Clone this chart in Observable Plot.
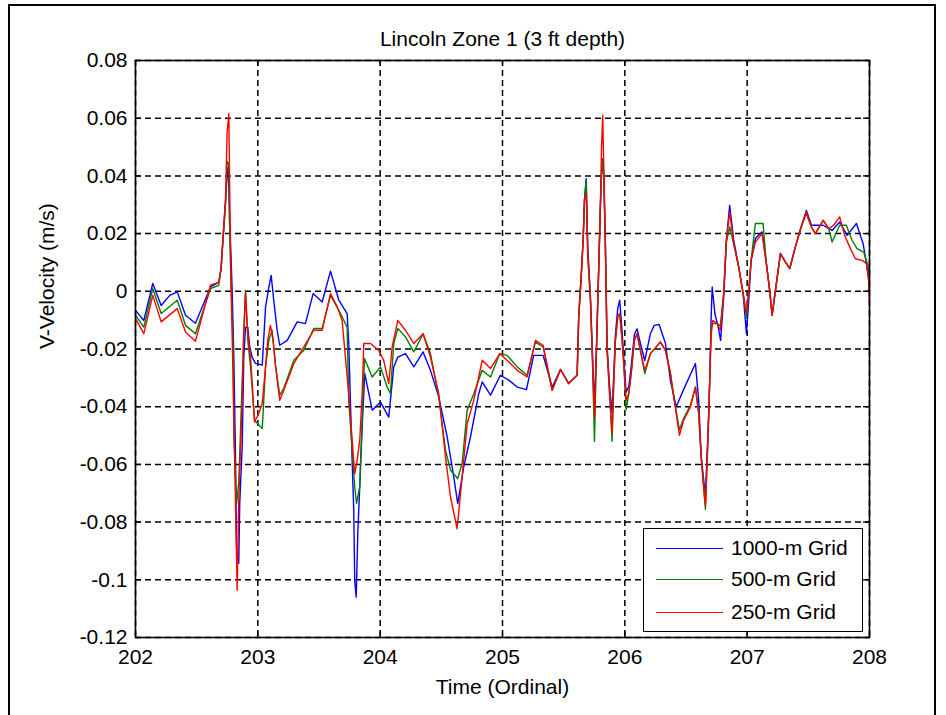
<!DOCTYPE html>
<html>
<head>
<meta charset="utf-8">
<script src="https://cdn.jsdelivr.net/npm/d3@7"></script>
<script src="https://cdn.jsdelivr.net/npm/@observablehq/plot@0.6"></script>
<style>
  body { margin: 0; background: #fff; font-family: Arial, "Liberation Sans", sans-serif; }
  #wrap { position: relative; width: 946px; height: 715px; overflow: hidden; background: #fff; }
  #border { position: absolute; left: 8px; top: 4px; width: 928px; height: 730px; border: 2px solid #000; box-sizing: border-box; pointer-events: none; }
  #legend { position: absolute; left: 643px; top: 528px; width: 220px; height: 104px; box-sizing: border-box;
            border: 1.5px solid #000; background: #fff; font-size: 21px; color: #000; }
  #legend .row { position: absolute; left: 0; height: 24px; display: flex; align-items: center; }
  #legend .sw { display: inline-block; width: 67px; height: 0; border-top: 1.6px solid; margin-left: 12px; margin-right: 8px; }
</style>
</head>
<body>
<div id="wrap">
  <div id="chart"></div>
  <div id="legend"></div>
  <div id="border"></div>
</div>
<script>
// Lincoln Zone 1, V-velocity at 3 ft depth, three model grid resolutions.
// Each series: [ordinal day, velocity in m/s]
const grid1000 = [
  [202.000,-0.0066],[202.068,-0.0101],[202.141,0.0027],[202.210,-0.0049],[202.280,-0.0014],[202.341,-0.0002],
  [202.409,-0.0083],[202.490,-0.0111],[202.613,0.0015],[202.681,0.0032],[202.700,0.0080],[202.717,0.0194],
  [202.736,0.0315],[202.749,0.0402],[202.758,0.0431],[202.763,0.0360],[202.771,0.0211],[202.782,0.0107],
  [202.790,0.0003],[202.803,-0.0215],[202.817,-0.0562],[202.826,-0.0887],[202.844,-0.0943],[202.852,-0.0735],
  [202.872,-0.0541],[202.885,-0.0229],[202.899,-0.0125],[202.918,-0.0125],[202.934,-0.0194],[202.954,-0.0229],
  [202.981,-0.0250],[203.036,-0.0256],[203.063,-0.0055],[203.090,0.0014],[203.109,0.0055],[203.130,-0.0031],
  [203.158,-0.0135],[203.179,-0.0187],[203.240,-0.0170],[203.322,-0.0106],[203.389,-0.0112],[203.452,-0.0008],
  [203.526,-0.0037],[203.594,0.0070],[203.662,-0.0031],[203.730,-0.0077],[203.743,-0.0181],[203.771,-0.0586],
  [203.784,-0.0759],[203.792,-0.1002],[203.804,-0.1060],[203.817,-0.0840],[203.833,-0.0678],[203.853,-0.0470],
  [203.874,-0.0285],[203.935,-0.0412],[204.003,-0.0384],[204.070,-0.0436],[204.111,-0.0262],[204.144,-0.0228],
  [204.207,-0.0216],[204.275,-0.0262],[204.351,-0.0210],[204.411,-0.0274],[204.479,-0.0366],[204.548,-0.0505],
  [204.602,-0.0644],[204.634,-0.0736],[204.683,-0.0609],[204.738,-0.0505],[204.806,-0.0355],[204.834,-0.0314],
  [204.902,-0.0360],[204.983,-0.0291],[205.051,-0.0308],[205.120,-0.0332],[205.196,-0.0341],[205.255,-0.0222],
  [205.332,-0.0222],[205.406,-0.0332],[205.474,-0.0271],[205.541,-0.0320],[205.610,-0.0291],[205.623,-0.0089],
  [205.643,0.0050],[205.659,0.0177],[205.670,0.0315],[205.684,0.0390],[205.697,0.0150],[205.719,-0.0020],
  [205.733,-0.0190],[205.752,-0.0400],[205.768,-0.0190],[205.787,0.0090],[205.801,0.0300],[205.809,0.0400],
  [205.819,0.0460],[205.828,0.0400],[205.841,0.0160],[205.855,-0.0190],[205.877,-0.0340],[205.896,-0.0420],
  [205.909,-0.0290],[205.923,-0.0150],[205.942,-0.0060],[205.958,-0.0031],[205.978,-0.0140],[205.991,-0.0230],
  [206.011,-0.0350],[206.032,-0.0330],[206.052,-0.0260],[206.078,-0.0150],[206.100,-0.0130],[206.127,-0.0180],
  [206.163,-0.0240],[206.209,-0.0147],[206.240,-0.0118],[206.280,-0.0115],[206.332,-0.0180],[206.373,-0.0310],
  [206.420,-0.0400],[206.481,-0.0340],[206.577,-0.0250],[206.604,-0.0380],[206.624,-0.0570],[206.651,-0.0680],
  [206.659,-0.0700],[206.673,-0.0560],[206.686,-0.0420],[206.694,-0.0308],[206.705,-0.0100],[206.714,0.0015],
  [206.736,-0.0077],[206.763,-0.0124],[206.783,-0.0170],[206.808,-0.0020],[206.830,0.0177],[206.857,0.0298],
  [206.890,0.0177],[206.931,0.0084],[206.967,-0.0008],[206.994,-0.0147],[207.013,-0.0031],[207.032,0.0107],
  [207.067,0.0183],[207.122,0.0206],[207.157,0.0096],[207.184,0.0003],[207.204,-0.0083],[207.231,0.0003],
  [207.272,0.0131],[207.305,0.0107],[207.348,0.0079],[207.394,0.0154],[207.441,0.0223],[207.484,0.0280],
  [207.525,0.0230],[207.544,0.0229],[207.621,0.0229],[207.694,0.0211],[207.756,0.0240],[207.817,0.0194],
  [207.893,0.0235],[207.948,0.0165],[207.975,0.0096],[207.992,0.0050],[208.000,0.0003]
];

const grid500 = [
  [202.000,-0.0083],[202.068,-0.0124],[202.141,0.0009],[202.210,-0.0077],[202.341,-0.0031],[202.409,-0.0118],
  [202.490,-0.0147],[202.613,0.0009],[202.681,0.0021],[202.700,0.0080],[202.717,0.0190],[202.736,0.0300],
  [202.749,0.0450],[202.763,0.0440],[202.771,0.0180],[202.782,0.0000],[202.799,-0.0200],[202.803,-0.0490],
  [202.826,-0.0735],[202.844,-0.0666],[202.858,-0.0490],[202.885,-0.0146],[202.899,0.0003],[202.918,-0.0170],
  [202.940,-0.0260],[202.973,-0.0447],[203.036,-0.0476],[203.063,-0.0262],[203.090,-0.0170],[203.117,-0.0135],
  [203.144,-0.0256],[203.179,-0.0360],[203.212,-0.0336],[203.294,-0.0239],[203.376,-0.0204],[203.457,-0.0129],
  [203.526,-0.0129],[203.594,-0.0014],[203.676,-0.0077],[203.730,-0.0124],[203.743,-0.0378],[203.771,-0.0550],
  [203.792,-0.0678],[203.807,-0.0735],[203.833,-0.0678],[203.853,-0.0436],[203.872,-0.0233],[203.935,-0.0297],
  [204.003,-0.0262],[204.057,-0.0332],[204.084,-0.0354],[204.111,-0.0181],[204.144,-0.0129],[204.207,-0.0158],
  [204.275,-0.0210],[204.351,-0.0147],[204.411,-0.0216],[204.479,-0.0366],[204.534,-0.0551],[204.575,-0.0620],
  [204.634,-0.0649],[204.670,-0.0597],[204.711,-0.0412],[204.765,-0.0355],[204.834,-0.0274],[204.902,-0.0297],
  [204.978,-0.0216],[205.038,-0.0222],[205.120,-0.0262],[205.201,-0.0291],[205.269,-0.0176],[205.332,-0.0193],
  [205.406,-0.0343],[205.474,-0.0271],[205.541,-0.0320],[205.610,-0.0291],[205.623,-0.0089],[205.643,0.0050],
  [205.659,0.0177],[205.670,0.0315],[205.684,0.0385],[205.697,0.0140],[205.719,-0.0031],[205.733,-0.0205],
  [205.752,-0.0520],[205.768,-0.0205],[205.787,0.0084],[205.801,0.0315],[205.809,0.0400],[205.819,0.0460],
  [205.828,0.0400],[205.841,0.0165],[205.855,-0.0205],[205.877,-0.0366],[205.896,-0.0520],[205.909,-0.0320],
  [205.923,-0.0170],[205.942,-0.0089],[205.958,-0.0077],[205.978,-0.0170],[205.991,-0.0251],[206.011,-0.0410],
  [206.032,-0.0355],[206.052,-0.0285],[206.078,-0.0170],[206.100,-0.0147],[206.127,-0.0205],[206.163,-0.0285],
  [206.209,-0.0216],[206.291,-0.0176],[206.332,-0.0205],[206.373,-0.0285],[206.400,-0.0366],[206.446,-0.0480],
  [206.481,-0.0440],[206.536,-0.0395],[206.577,-0.0332],[206.604,-0.0424],[206.624,-0.0574],[206.651,-0.0713],
  [206.659,-0.0756],[206.673,-0.0586],[206.686,-0.0424],[206.694,-0.0308],[206.705,-0.0130],[206.718,-0.0112],
  [206.754,-0.0112],[206.781,-0.0120],[206.808,-0.0008],[206.830,0.0170],[206.857,0.0223],[206.890,0.0165],
  [206.931,0.0084],[206.967,-0.0008],[206.994,-0.0094],[207.013,0.0003],[207.032,0.0107],[207.067,0.0235],
  [207.130,0.0235],[207.157,0.0096],[207.184,0.0003],[207.204,-0.0083],[207.231,0.0003],[207.272,0.0131],
  [207.305,0.0107],[207.348,0.0079],[207.394,0.0154],[207.441,0.0223],[207.484,0.0270],[207.525,0.0223],
  [207.557,0.0200],[207.621,0.0246],[207.667,0.0217],[207.694,0.0171],[207.756,0.0229],[207.811,0.0229],
  [207.857,0.0177],[207.898,0.0148],[207.952,0.0136],[207.992,0.0084],[208.000,0.0003]
];

const grid250 = [
  [202.000,-0.0095],[202.068,-0.0147],[202.141,-0.0014],[202.210,-0.0106],[202.341,-0.0060],[202.409,-0.0141],
  [202.490,-0.0173],[202.613,0.0021],[202.681,0.0032],[202.700,0.0084],[202.717,0.0194],[202.736,0.0321],
  [202.749,0.0552],[202.763,0.0616],[202.771,0.0315],[202.782,0.0015],[202.799,-0.0332],[202.817,-0.0724],
  [202.831,-0.1036],[202.844,-0.0724],[202.872,-0.0378],[202.885,-0.0146],[202.899,-0.0007],[202.918,-0.0146],
  [202.940,-0.0228],[202.954,-0.0319],[202.973,-0.0453],[203.008,-0.0423],[203.036,-0.0388],[203.063,-0.0262],
  [203.081,-0.0170],[203.103,-0.0118],[203.125,-0.0170],[203.144,-0.0256],[203.179,-0.0378],[203.212,-0.0343],
  [203.294,-0.0251],[203.376,-0.0193],[203.457,-0.0135],[203.526,-0.0135],[203.594,-0.0008],[203.649,-0.0054],
  [203.689,-0.0101],[203.716,-0.0228],[203.743,-0.0355],[203.771,-0.0516],[203.792,-0.0632],[203.812,-0.0586],
  [203.833,-0.0516],[203.853,-0.0355],[203.866,-0.0181],[203.921,-0.0181],[203.989,-0.0205],[204.029,-0.0239],
  [204.070,-0.0320],[204.098,-0.0193],[204.144,-0.0101],[204.207,-0.0135],[204.275,-0.0181],[204.351,-0.0147],
  [204.411,-0.0228],[204.479,-0.0355],[204.534,-0.0574],[204.575,-0.0713],[204.629,-0.0823],[204.670,-0.0644],
  [204.711,-0.0459],[204.765,-0.0378],[204.834,-0.0239],[204.902,-0.0268],[204.978,-0.0216],[205.038,-0.0239],
  [205.120,-0.0274],[205.201,-0.0297],[205.269,-0.0170],[205.332,-0.0187],[205.406,-0.0343],[205.474,-0.0271],
  [205.541,-0.0320],[205.610,-0.0291],[205.623,-0.0089],[205.643,0.0050],[205.659,0.0177],[205.670,0.0315],
  [205.684,0.0339],[205.697,0.0119],[205.719,-0.0031],[205.733,-0.0205],[205.752,-0.0436],[205.768,-0.0205],
  [205.787,0.0084],[205.801,0.0315],[205.809,0.0489],[205.819,0.0610],[205.828,0.0431],[205.841,0.0165],
  [205.855,-0.0205],[205.877,-0.0366],[205.896,-0.0493],[205.909,-0.0320],[205.923,-0.0170],[205.942,-0.0089],
  [205.958,-0.0077],[205.978,-0.0170],[205.991,-0.0251],[206.011,-0.0378],[206.032,-0.0355],[206.052,-0.0285],
  [206.078,-0.0170],[206.100,-0.0147],[206.127,-0.0205],[206.163,-0.0274],[206.209,-0.0216],[206.291,-0.0176],
  [206.332,-0.0205],[206.373,-0.0285],[206.400,-0.0366],[206.446,-0.0499],[206.481,-0.0447],[206.536,-0.0401],
  [206.577,-0.0332],[206.604,-0.0424],[206.624,-0.0574],[206.651,-0.0713],[206.659,-0.0742],[206.673,-0.0586],
  [206.686,-0.0424],[206.694,-0.0308],[206.705,-0.0158],[206.718,-0.0101],[206.754,-0.0112],[206.781,-0.0135],
  [206.808,-0.0008],[206.830,0.0177],[206.857,0.0275],[206.890,0.0165],[206.931,0.0084],[206.967,-0.0008],
  [206.994,-0.0077],[207.013,0.0003],[207.032,0.0107],[207.067,0.0171],[207.122,0.0200],[207.157,0.0096],
  [207.184,0.0003],[207.204,-0.0083],[207.231,0.0003],[207.272,0.0131],[207.305,0.0107],[207.348,0.0079],
  [207.394,0.0154],[207.441,0.0223],[207.484,0.0275],[207.525,0.0223],[207.557,0.0200],[207.621,0.0246],
  [207.667,0.0217],[207.707,0.0229],[207.756,0.0258],[207.797,0.0194],[207.844,0.0148],[207.885,0.0113],
  [207.940,0.0107],[207.975,0.0096],[207.993,0.0038],[208.000,-0.0043]
];

const seriesNames = ["1000-m Grid", "500-m Grid", "250-m Grid"];
const seriesColors = ["#0000ff", "#008000", "#ff0000"];
const seriesData = [grid1000, grid500, grid250];

const xTicks = [202, 203, 204, 205, 206, 207, 208];
const yTicks = [0.08, 0.06, 0.04, 0.02, 0, -0.02, -0.04, -0.06, -0.08, -0.1, -0.12];

const titleText = "Lincoln Zone 1 (3 ft depth)";
const xLabel = "Time (Ordinal)";
const yLabel = "V-Velocity (m/s)";

const W = 946, H = 715;
const M = {left: 135, right: 77, top: 60, bottom: 78};
const innerW = W - M.left - M.right;
const innerH = H - M.top - M.bottom;
const FONT = "Arial, 'Liberation Sans', sans-serif";
const FS = 21;
const tickLen = 6;

// short numeric labels: 0, 0.02, -0.1, -0.12 (plain hyphen for the sign)
const fmtY = d => d === 0 ? "0" : (d < 0 ? "-" : "") + String(+Math.abs(d).toFixed(2));
const dash = {stroke: "#000", strokeOpacity: 1, strokeDasharray: "6,4", strokeWidth: 1.5};

const chart = Plot.plot({
  width: W,
  height: H,
  marginLeft: M.left,
  marginRight: M.right,
  marginTop: M.top,
  marginBottom: M.bottom,
  style: {fontFamily: FONT, fontSize: FS + "px", color: "#000", background: "transparent", overflow: "visible"},
  x: {domain: [202, 208]},
  y: {domain: [-0.12, 0.08]},
  marks: [
    Plot.gridX(xTicks, dash),
    Plot.gridY(yTicks, dash),
    ...seriesData.map((data, i) =>
      Plot.line(data, {x: d => d[0], y: d => d[1], stroke: seriesColors[i], strokeWidth: 1.4, clip: true})
    ),
    // inward tick marks on all four sides
    Plot.tickX(xTicks, {x: d => d, insetTop: innerH - tickLen, stroke: "#000", strokeWidth: 1.3}),
    Plot.tickX(xTicks, {x: d => d, insetBottom: innerH - tickLen, stroke: "#000", strokeWidth: 1.3}),
    Plot.tickY(yTicks, {y: d => d, insetRight: innerW - tickLen, stroke: "#000", strokeWidth: 1.3}),
    Plot.tickY(yTicks, {y: d => d, insetLeft: innerW - tickLen, stroke: "#000", strokeWidth: 1.3}),
    Plot.frame({stroke: "#000", strokeWidth: 1.6}),
    Plot.axisX(xTicks, {tickSize: 0, tickPadding: 12, label: null, tickFormat: d => String(d), fontSize: FS}),
    Plot.axisY(yTicks, {tickSize: 0, tickPadding: 8, label: null, tickFormat: fmtY, fontSize: FS}),
    Plot.text([titleText], {frameAnchor: "top", dy: -29, fontSize: FS, text: d => d}),
    Plot.text([xLabel], {frameAnchor: "bottom", dy: 56, fontSize: FS, text: d => d}),
    Plot.text([yLabel], {frameAnchor: "left", dx: -88, rotate: -90, fontSize: FS, text: d => d})
  ]
});
document.getElementById("chart").appendChild(chart);

// legend box
const legend = document.getElementById("legend");
const rowTops = [7, 38, 71];
seriesNames.forEach((name, i) => {
  const row = document.createElement("div");
  row.className = "row";
  row.style.top = rowTops[i] + "px";
  const sw = document.createElement("span");
  sw.className = "sw";
  sw.style.borderTopColor = seriesColors[i];
  const label = document.createElement("span");
  label.textContent = name;
  row.appendChild(sw);
  row.appendChild(label);
  legend.appendChild(row);
});
</script>
</body>
</html>
